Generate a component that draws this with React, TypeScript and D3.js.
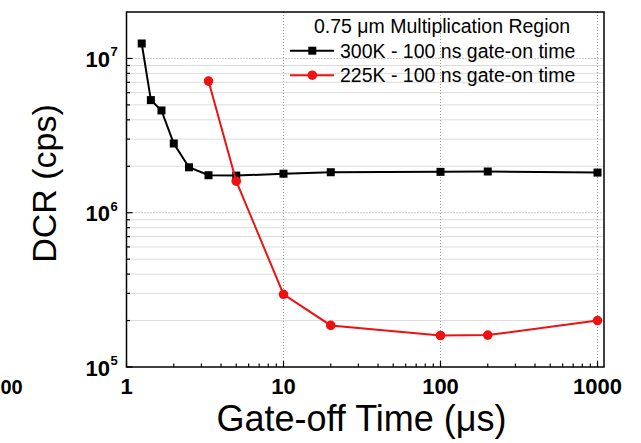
import React from "react";
import * as d3 from "d3";

const gateOff300 = [1.25, 1.43, 1.67, 2.0, 2.5, 3.33, 5, 10, 20, 100, 200, 1000];
const dcr300 = [1.25e7, 5.37e6, 4.6e6, 2.81e6, 1.97e6, 1.75e6, 1.74e6, 1.79e6, 1.83e6, 1.84e6, 1.85e6, 1.82e6];
const gateOff225 = [3.33, 5, 10, 20, 100, 200, 1000];
const dcr225 = [7.13e6, 1.6e6, 2.96e5, 1.86e5, 1.6e5, 1.61e5, 2.0e5];
const xTickLabels = [1, 10, 100, 1000];
const yTickExps = [5, 6, 7];
const legendTitle = "0.75 \u03bcm Multiplication Region";
const series = [
  { name: "300K - 100 ns gate-on time", color: "#000000", shape: "square" },
  { name: "225K - 100 ns gate-on time", color: "#ee1111", shape: "circle" },
];

export default function App() {
  const W = 641, H = 443;
  const L = 126.5, R = 604, T = 12, B = 367;
  const x = d3.scaleLog().domain([1, 1100]).range([L, R]);
  const y = d3.scaleLog().domain([1e5, 2e7]).range([B, T]);
  const line = d3.line<[number, number]>().x((d) => x(d[0])).y((d) => y(d[1]));
  const d300: [number, number][] = gateOff300.map((v, i) => [v, dcr300[i]]);
  const d225: [number, number][] = gateOff225.map((v, i) => [v, dcr225[i]]);
  const xt = x.ticks().filter((v) => v <= 1100);
  const yt = y.ticks().filter((v) => v < 2e7);
  const isMajor = (v: number) => Math.abs(Math.log10(v) - Math.round(Math.log10(v))) < 1e-9;
  const font = "Arial, 'Liberation Sans', sans-serif";

  return (
    <svg width={W} height={H} style={{ position: "absolute", left: 0, top: 0, background: "#fff" }} fontFamily={font}>
      <rect x={0} y={0} width={W} height={H} fill="#fff" />
      {/* minor horizontal gridlines */}
      {yt.filter((v) => !isMajor(v)).map((v) => (
        <line key={"gy" + v} x1={L} x2={R} y1={y(v)} y2={y(v)} stroke="#dcdcdc" strokeWidth={1} />
      ))}
      {/* major gridlines dotted */}
      {yt.filter((v) => isMajor(v) && v > 1e5).map((v) => (
        <line key={"gyM" + v} x1={L} x2={R} y1={y(v)} y2={y(v)} stroke="#999" strokeWidth={1} strokeDasharray="1,2" />
      ))}
      {xt.filter((v) => isMajor(v) && v > 1).map((v) => (
        <line key={"gxM" + v} x1={x(v)} x2={x(v)} y1={T} y2={B} stroke="#999" strokeWidth={1} strokeDasharray="1,2" />
      ))}
      {/* ticks */}
      {xt.map((v) => (
        <line key={"tx" + v} x1={x(v)} x2={x(v)} y1={B} y2={B - (isMajor(v) ? 6 : 3.5)} stroke="#000" strokeWidth={1.2} />
      ))}
      {yt.map((v) => (
        <line key={"ty" + v} x1={L} x2={L + (isMajor(v) ? 6 : 3.5)} y1={y(v)} y2={y(v)} stroke="#000" strokeWidth={1.2} />
      ))}
      {/* frame */}
      <rect x={L} y={T} width={R - L} height={B - T} fill="none" stroke="#000" strokeWidth={1.5} />
      {/* series */}
      <path d={line(d300) || ""} fill="none" stroke={series[0].color} strokeWidth={2} />
      {d300.map((d, i) => (
        <rect key={"s" + i} x={x(d[0]) - 4} y={y(d[1]) - 4} width={8} height={8} fill={series[0].color} />
      ))}
      <path d={line(d225) || ""} fill="none" stroke={series[1].color} strokeWidth={2} />
      {d225.map((d, i) => (
        <circle key={"c" + i} cx={x(d[0])} cy={y(d[1])} r={4.8} fill={series[1].color} />
      ))}
      {/* tick labels */}
      {xTickLabels.map((v) => (
        <text key={"lx" + v} x={x(v)} y={394} textAnchor="middle" fontSize={22} fontWeight="bold" fill="#000">
          {v}
        </text>
      ))}
      {yTickExps.map((e) => (
        <g key={"ly" + e}>
          <text x={110} y={y(Math.pow(10, e)) + 8.5} textAnchor="end" fontSize={22} fontWeight="bold" fill="#000">10</text>
          <text x={110.5} y={y(Math.pow(10, e)) - 2} textAnchor="start" fontSize={13} fontWeight="bold" fill="#000">{e}</text>
        </g>
      ))}
      {/* neighbouring panel remnant */}
      <text x={0.5} y={394} textAnchor="start" fontSize={20} fontWeight="bold" fill="#000">00</text>
      {/* axis titles */}
      <text x={361.5} y={431} textAnchor="middle" fontSize={36} fill="#000">
        Gate-off Time (<tspan>{"\u03bc"}</tspan>s)
      </text>
      <text transform={`translate(56,${183.5}) rotate(-90)`} textAnchor="middle" fontSize={34} fill="#000">
        DCR (cps)
      </text>
      {/* legend */}
      <text x={314} y={33} fontSize={19.5} fill="#000">{legendTitle}</text>
      {series.map((s, i) => {
        const ly = 50.7 + i * 24.5;
        return (
          <g key={"lg" + i}>
            <line x1={290} x2={334} y1={ly} y2={ly} stroke={s.color} strokeWidth={2} />
            {s.shape === "square" ? (
              <rect x={312.3 - 4} y={ly - 4} width={8} height={8} fill={s.color} />
            ) : (
              <circle cx={312.3} cy={ly} r={4.8} fill={s.color} />
            )}
            <text x={340} y={ly + 7} fontSize={19.5} fill="#000">{s.name}</text>
          </g>
        );
      })}
    </svg>
  );
}
